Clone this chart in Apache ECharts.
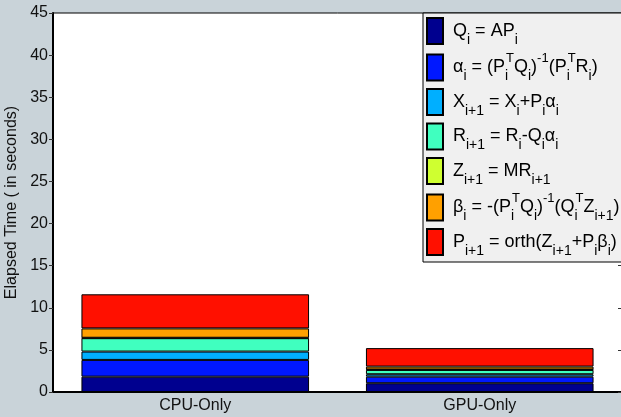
<!DOCTYPE html>
<html>
<head>
<meta charset="utf-8">
<script src="https://cdn.jsdelivr.net/npm/echarts@6/dist/echarts.min.js"></script>
<style>
html,body{margin:0;padding:0;background:#c9d3d9;}
#chart{width:621px;height:417px;}
</style>
</head>
<body>
<div id="chart"></div>
<script>
var categories = ['CPU-Only', 'GPU-Only'];
var seriesNames = ['Qi = APi', 'alpha', 'Xi+1', 'Ri+1', 'Zi+1', 'beta', 'Pi+1'];
var legendLabels = [
  '{n|Q}{s|i}{n| = AP}{s|i}',
  '{n|α}{s|i}{n| = (P}{ss|i}{p|T}{n|Q}{s|i}{n|)}{p|-1}{n|(P}{ss|i}{p|T}{n|R}{s|i}{n|)}',
  '{n|X}{s|i+1}{n| = X}{s|i}{n|+P}{s|i}{n|α}{s|i}',
  '{n|R}{s|i+1}{n| = R}{s|i}{n|-Q}{s|i}{n|α}{s|i}',
  '{n|Z}{s|i+1}{n| = MR}{s|i+1}',
  '{n|β}{s|i}{n| = -(P}{ss|i}{p|T}{n|Q}{s|i}{n|)}{p|-1}{n|(Q}{ss|i}{p|T}{n|Z}{s|i+1}{n|)}',
  '{n|P}{s|i+1}{n| = orth(Z}{s|i+1}{n|+P}{s|i}{n|β}{s|i}{n|)}'
];
var colors = ['#00008f', '#0018ff', '#00afff', '#40ffbf', '#cfff30', '#ffa000', '#ff1000'];
var cpuValues = [1.82, 1.99, 0.99, 1.59, 0.05, 1.11, 4.05];
var gpuValues = [1.04, 0.78, 0.29, 0.51, 0.05, 0.35, 2.19];
var yTicks = {min: 0, max: 45, interval: 5};
var yTitle = 'Elapsed Time ( in seconds)';

var chart = echarts.init(document.getElementById('chart'));
var labelMap = {};
seriesNames.forEach(function (n, i) { labelMap[n] = legendLabels[i]; });

var series = seriesNames.map(function (name, i) {
  return {
    name: name,
    type: 'bar',
    stack: 'total',
    barWidth: '80%',
    data: [cpuValues[i], gpuValues[i]],
    itemStyle: {color: colors[i], borderColor: '#000', borderWidth: 1},
    emphasis: {disabled: true}
  };
});

chart.setOption({
  backgroundColor: '#c9d3d9',
  animation: false,
  textStyle: {fontFamily: 'Liberation Sans, Arial, sans-serif'},
  grid: {left: 53, top: 13, right: -1, bottom: 25, outerBoundsMode: 'none', containLabel: false, show: true, backgroundColor: '#ffffff', borderColor: '#000', borderWidth: 1},
  legend: {
    orient: 'vertical',
    left: 423,
    top: 13,
    data: seriesNames,
    icon: 'rect',
    itemWidth: 16,
    itemHeight: 26,
    itemGap: 4.5,
    padding: [4, 40, 4, 3],
    backgroundColor: '#f0f0f0',
    borderColor: '#000',
    borderWidth: 1,
    selectedMode: false,
    formatter: function (name) { return labelMap[name]; },
    textStyle: {
      color: '#000',
      padding: [0, 0, 0, 5],
      rich: {
        n: {fontSize: 18, lineHeight: 32, verticalAlign: 'middle', color: '#000', fontFamily: 'Liberation Sans'},
        s: {fontSize: 14, lineHeight: 14, verticalAlign: 'bottom', color: '#000', fontFamily: 'Liberation Sans'},
        ss: {fontSize: 14, lineHeight: 14, verticalAlign: 'bottom', width: 1, color: '#000', fontFamily: 'Liberation Sans'},
        p: {fontSize: 13, lineHeight: 16, verticalAlign: 'top', color: '#000', fontFamily: 'Liberation Sans'}
      }
    }
  },
  xAxis: {
    type: 'category',
    data: categories,
    axisLine: {lineStyle: {color: '#000', width: 2}},
    axisTick: {show: false},
    axisLabel: {color: '#111', fontSize: 16, margin: 6, fontFamily: 'Liberation Sans'}
  },
  yAxis: [{
    type: 'value',
    min: yTicks.min, max: yTicks.max, interval: yTicks.interval,
    name: yTitle,
    nameLocation: 'middle',
    nameGap: 24,
    nameTextStyle: {color: '#111', fontSize: 16, fontFamily: 'Liberation Sans'},
    axisLine: {show: true, lineStyle: {color: '#000', width: 2}},
    axisTick: {show: true, inside: false, length: 4, lineStyle: {color: '#333'}},
    axisLabel: {color: '#111', fontSize: 16, margin: 5, fontFamily: 'Liberation Sans'},
    splitLine: {show: false}
  }, {
    type: 'value',
    position: 'right',
    min: yTicks.min, max: yTicks.max, interval: yTicks.interval,
    axisLine: {show: false},
    axisTick: {show: true, inside: true, length: 4, lineStyle: {color: '#333'}},
    axisLabel: {show: false},
    splitLine: {show: false}
  }],
  series: series
});
</script>
</body>
</html>
